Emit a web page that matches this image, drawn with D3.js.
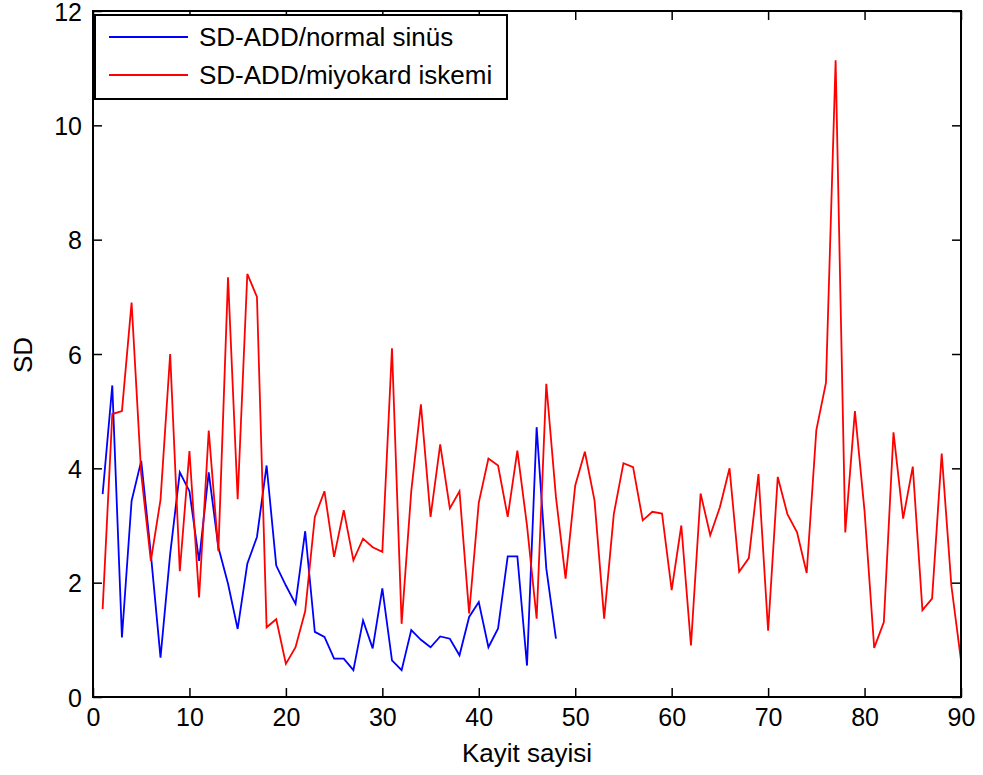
<!DOCTYPE html>
<html>
<head>
<meta charset="utf-8">
<script src="https://cdn.jsdelivr.net/npm/d3@7"></script>
<style>
  body { margin: 0; background: #fff; }
  svg { font-family: Arial, 'Liberation Sans', sans-serif; }
  .axis text { font-size: 25px; fill: #000; }
  .axis line { stroke: #000; stroke-width: 1.5; }
  .axis path { display: none; }
  .title { font-size: 26px; fill: #000; }
  .legend text { font-size: 26px; fill: #000; }
</style>
</head>
<body>
<div id="chart"></div>
<script>
// series values (x = 1, 2, 3, ...)
let normalSinus = [
  3.55, 5.45, 1.04, 3.43, 4.13, 2.5, 0.69, 2.5, 3.93, 3.6,
  2.38, 3.93, 2.62, 1.98, 1.19, 2.33, 2.8, 4.05, 2.3, 1.95,
  1.63, 2.9, 1.14, 1.05, 0.67, 0.67, 0.47, 1.34, 0.85, 1.9,
  0.64, 0.47, 1.17, 1.0, 0.87, 1.06, 1.02, 0.73, 1.4, 1.66,
  0.87, 1.2, 2.46, 2.46, 0.55, 4.72, 2.25, 1.02
]

let miyokardIskemi = [
  1.54, 4.95, 5.0, 6.9, 3.9, 2.38, 3.45, 6.0, 2.2, 4.3,
  1.74, 4.66, 2.55, 7.34, 3.46, 7.4, 7.0, 1.22, 1.36, 0.58,
  0.87, 1.5, 3.15, 3.6, 2.45, 3.27, 2.39, 2.77, 2.62, 2.54,
  6.1, 1.28, 3.6, 5.12, 3.15, 4.42, 3.3, 3.6, 1.46, 3.4,
  4.17, 4.05, 3.15, 4.31, 3.0, 1.37, 5.48, 3.5, 2.07, 3.7,
  4.29, 3.44, 1.37, 3.2, 4.09, 4.02, 3.09, 3.24, 3.21, 1.87,
  3.0, 0.9, 3.56, 2.83, 3.32, 4.0, 2.19, 2.43, 3.9, 1.16,
  3.85, 3.2, 2.88, 2.17, 4.67, 5.5, 11.14, 2.88, 5.0, 3.25,
  0.86, 1.31, 4.63, 3.12, 4.03, 1.52, 1.72, 4.26, 1.95, 0.64
]

let seriesNames = ['SD-ADD/normal sinüs', 'SD-ADD/miyokard iskemi']
let seriesColors = ['#0000ff', '#ff0000']
let xTicks = d3.range(0, 91, 10)
let yTicks = d3.range(0, 13, 2)

let width = 983
let height = 775
let margin = { top: 11, right: 22, bottom: 78, left: 93 }
let w = width - margin.left - margin.right
let h = height - margin.top - margin.bottom

let svg = d3.select('#chart')
  .append('svg')
  .attr('width', width)
  .attr('height', height)

let g = svg.append('g')
  .attr('transform', 'translate(' + margin.left + ',' + margin.top + ')')

let x = d3.scaleLinear().domain([0, 90]).range([0, w])
let y = d3.scaleLinear().domain([0, 12]).range([h, 0])

// axes, ticks pointing inward on all four sides
g.append('g')
  .attr('class', 'axis')
  .attr('transform', 'translate(0,' + h + ')')
  .call(d3.axisBottom(x).tickValues(xTicks).tickSizeInner(-9).tickSizeOuter(0).tickPadding(11))

g.append('g')
  .attr('class', 'axis')
  .call(d3.axisLeft(y).tickValues(yTicks).tickSizeInner(-9).tickSizeOuter(0).tickPadding(11))
  .selectAll('text')
  .attr('dy', '0.36em')

g.append('g')
  .attr('class', 'axis')
  .call(d3.axisTop(x).tickValues(xTicks).tickSizeInner(-9).tickSizeOuter(0).tickFormat(''))

g.append('g')
  .attr('class', 'axis')
  .attr('transform', 'translate(' + w + ',0)')
  .call(d3.axisRight(y).tickValues(yTicks).tickSizeInner(-9).tickSizeOuter(0).tickFormat(''))

// lines
let line = d3.line()
  .x((d, i) => x(i + 1))
  .y((d) => y(d))

;[normalSinus, miyokardIskemi].forEach((data, k) => {
  g.append('path')
    .datum(data)
    .attr('fill', 'none')
    .attr('stroke', seriesColors[k])
    .attr('stroke-width', 1.8)
    .attr('stroke-linejoin', 'miter')
    .attr('d', line)
})

// plot box
g.append('rect')
  .attr('width', w)
  .attr('height', h)
  .attr('fill', 'none')
  .attr('stroke', '#000')
  .attr('stroke-width', 2)

// axis titles
svg.append('text')
  .attr('class', 'title')
  .attr('x', margin.left + w / 2)
  .attr('y', 762)
  .attr('text-anchor', 'middle')
  .text('Kayit sayisi')

svg.append('text')
  .attr('class', 'title')
  .attr('transform', 'translate(32,355)rotate(-90)')
  .attr('text-anchor', 'middle')
  .text('SD')

// legend
let legend = svg.append('g').attr('class', 'legend')

legend.append('rect')
  .attr('x', 95)
  .attr('y', 15)
  .attr('width', 412)
  .attr('height', 84)
  .attr('fill', '#fff')
  .attr('stroke', '#000')
  .attr('stroke-width', 2)

seriesNames.forEach((name, i) => {
  let ly = 37 + i * 38
  legend.append('line')
    .attr('x1', 109)
    .attr('x2', 188)
    .attr('y1', ly)
    .attr('y2', ly)
    .attr('stroke', seriesColors[i])
    .attr('stroke-width', 1.8)
  legend.append('text')
    .attr('x', 199)
    .attr('y', ly)
    .attr('dy', '0.35em')
    .text(name)
})
</script>
</body>
</html>
